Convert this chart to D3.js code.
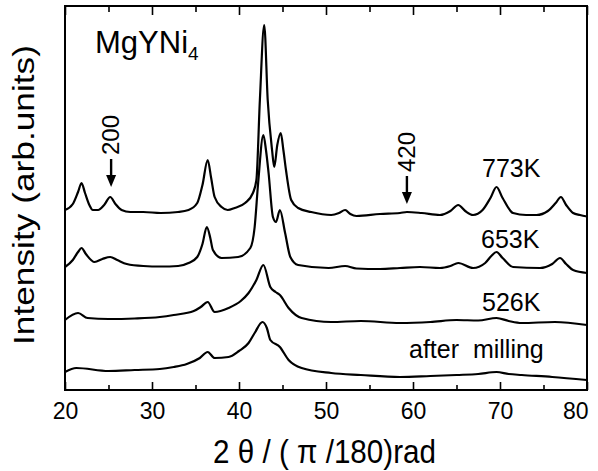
<!DOCTYPE html>
<html>
<head>
<meta charset="utf-8">
<script src="https://d3js.org/d3.v7.min.js"></script>
<style>
  body { margin: 0; background: #fff; }
  text { font-family: "Liberation Sans", Arial, sans-serif; fill: #000; }
</style>
</head>
<body>
<div id="chart"></div>
<script>
// tick values
var xTicks = [20, 30, 40, 50, 60, 70, 80];
var xMinor = [25, 35, 45, 55, 65, 75];

// 773K pattern
var t773 = [20.0, 20.9, 21.5, 21.9, 22.3, 22.8, 23.2, 23.8, 24.5, 25.2, 25.8, 26.5, 27.5, 29, 31, 33, 34.2, 35.2, 35.8, 36.4, 36.8, 37.2, 38, 38.7, 39.5, 40.7, 41.6, 42.0, 42.4, 42.9, 43.3, 43.8, 44.05, 44.4, 44.8, 45.1, 45.4, 46, 46.8, 48.3, 50.6, 51.5, 52.2, 52.8, 53.5, 56.2, 58.5, 59.3, 61, 63.1, 64.3, 65.2, 66, 66.9, 68.0, 68.9, 69.6, 70.3, 71.5, 73, 74.2, 75.5, 76.4, 77.0, 77.6, 78.4, 79.2, 80];
var i773 = [180, 186, 198, 207, 197, 185, 180, 180, 185, 193, 186, 180, 178, 178, 177, 178, 180, 187, 205, 230, 212, 193, 183, 180, 182, 187, 197, 210, 290, 365, 290, 240, 223, 245, 257, 240, 220, 190, 182, 178, 175, 177, 180, 176, 174, 176, 177, 178, 177, 175, 179, 185, 179, 175, 180, 192, 203, 192, 177, 175, 175, 179, 187, 193, 185, 177, 175, 173.5];

// 653K pattern
var t653 = [20, 20.9, 21.5, 21.9, 22.4, 23.4, 24.3, 25.2, 26, 27.1, 29, 31, 33, 34.2, 35.2, 35.8, 36.3, 36.7, 37, 38, 39.9, 41.3, 41.8, 42.2, 42.8, 43.1, 43.4, 43.9, 44.25, 44.7, 45.3, 45.9, 46.8, 50.3, 52.2, 53.5, 56.2, 58.5, 60.8, 63.1, 64.3, 65.2, 66.9, 68.3, 69.0, 69.6, 70.3, 71.5, 74.6, 76.0, 76.9, 77.6, 78.4, 80];
var i653 = [123, 130, 138, 142, 136, 128, 131, 133, 130, 126, 124, 123.5, 124, 127, 133, 146, 163, 152, 140, 132, 133, 142, 163, 207, 255, 240, 217, 173, 168, 180, 157, 133, 125, 122, 124, 121.5, 121, 122, 123, 122, 124, 127, 122, 127, 134, 138, 132, 123, 122, 126, 132, 126, 120, 117];

// 526K pattern
var t526 = [20, 21.5, 22.6, 25, 28, 30.9, 32.5, 34.8, 35.6, 36.4, 37.2, 38.8, 40.2, 41.1, 42.0, 42.8, 43.6, 44.2, 44.7, 45.7, 47.2, 50.6, 54, 58.5, 62, 65, 67.5, 69.6, 71, 72.5, 76.3, 80];
var i526 = [70, 77, 72, 71, 71.5, 73, 75, 79, 83, 88, 78, 82, 89, 97, 110, 125, 103, 98, 95, 82, 72, 68, 69, 67, 68, 70, 69.5, 72, 69, 67, 68, 65];

// after milling pattern
var tMill = [20, 21.3, 25, 28, 30.9, 32.5, 34, 35.5, 36.4, 37.2, 38.8, 40, 41.1, 41.8, 42.7, 43.2, 43.6, 44.7, 45.7, 47.2, 50.6, 54, 58.5, 62, 65, 67.5, 69.6, 71, 72.5, 76, 80];
var iMill = [18, 22, 19, 20, 21, 23, 26, 32, 38, 32, 33, 39, 47, 57, 68, 62, 50, 43, 30, 22, 17, 15, 13, 14, 15, 16, 18, 16, 15, 13, 10];

var seriesNames = ["773K", "653K", "526K", "after  milling"];

var series = [
  {name: seriesNames[0], t: t773, v: i773},
  {name: seriesNames[1], t: t653, v: i653},
  {name: seriesNames[2], t: t526, v: i526},
  {name: seriesNames[3], t: tMill, v: iMill}
];

var W = 598, H = 471;
var margin = {top: 6, right: 11, bottom: 81, left: 65};
var width = W - margin.left - margin.right;
var height = H - margin.top - margin.bottom;

var svg = d3.select("#chart").append("svg")
  .attr("width", W)
  .attr("height", H);

var g = svg.append("g")
  .attr("transform", "translate(" + margin.left + "," + margin.top + ")");

var x = d3.scaleLinear().domain([20, 80]).range([0, width]);
var y = d3.scaleLinear().domain([0, 384]).range([height, 0]);

//curves
var line = d3.line()
  .x(function(d) { return x(d[0]); })
  .y(function(d) { return y(d[1]); })
  .curve(d3.curveMonotoneX);

g.selectAll(".trace")
  .data(series)
  .enter()
  .append("path")
  .attr("class", "trace")
  .attr("fill", "none")
  .attr("stroke", "#000")
  .attr("stroke-width", 2.2)
  .attr("stroke-linejoin", "round")
  .attr("d", function(s) { return line(s.t.map(function(t, i) { return [t, s.v[i]]; })); });

//bottom axis, ticks pointing in
var xAxis = g.append("g")
  .attr("transform", "translate(0," + height + ")")
  .call(d3.axisBottom(x).tickValues(xTicks).tickSizeInner(-8).tickSizeOuter(0).tickPadding(12.5).tickFormat(d3.format("d")));
xAxis.select(".domain").remove();
xAxis.selectAll("line").attr("stroke-width", 1.6);
xAxis.selectAll("text").style("font-size", "23px").attr("fill", "#000");
// last label kept inside the page
xAxis.selectAll("text").filter(function(d) { return d === 80; })
  .attr("text-anchor", "end").attr("x", 1);

var xMinorAxis = g.append("g")
  .attr("transform", "translate(0," + height + ")")
  .call(d3.axisBottom(x).tickValues(xMinor).tickSizeInner(-5).tickSizeOuter(0).tickFormat(""));
xMinorAxis.select(".domain").remove();
xMinorAxis.selectAll("line").attr("stroke-width", 1.6);

//top axis
var topAxis = g.append("g")
  .call(d3.axisTop(x).tickValues(xTicks).tickSizeInner(-9).tickSizeOuter(0).tickFormat(""));
topAxis.select(".domain").remove();
topAxis.selectAll("line").attr("stroke-width", 1.6);

var topMinor = g.append("g")
  .call(d3.axisTop(x).tickValues(xMinor).tickSizeInner(-6).tickSizeOuter(0).tickFormat(""));
topMinor.select(".domain").remove();
topMinor.selectAll("line").attr("stroke-width", 1.6);

//frame
g.append("rect")
  .attr("x", 0).attr("y", 0)
  .attr("width", width).attr("height", height)
  .attr("fill", "none")
  .attr("stroke", "#000")
  .attr("stroke-width", 2);

//axis titles
svg.append("text")
  .attr("x", 213)
  .attr("y", 463)
  .attr("textLength", 223)
  .attr("lengthAdjust", "spacingAndGlyphs")
  .style("font-size", "33px")
  .style("white-space", "pre")
  .text("2 \u03B8 / ( \u03C0 /180)rad");

svg.append("text")
  .attr("transform", "translate(34,345) rotate(-90)")
  .attr("textLength", 300)
  .attr("lengthAdjust", "spacingAndGlyphs")
  .style("font-size", "29px")
  .text("Intensity (arb.units)");

//compound label
var comp = svg.append("text")
  .attr("x", 95)
  .attr("y", 53)
  .style("font-size", "31px");
comp.append("tspan").text("MgYNi");
comp.append("tspan").attr("dy", 7).style("font-size", "19px").text("4");

//temperature labels
var labelPos = [[482, 177], [481, 248], [482, 311], [409, 358]];
svg.selectAll(".tlabel")
  .data(seriesNames)
  .enter()
  .append("text")
  .attr("class", "tlabel")
  .attr("x", function(d, i) { return labelPos[i][0]; })
  .attr("y", function(d, i) { return labelPos[i][1]; })
  .style("font-size", "25px")
  .style("white-space", "pre")
  .text(function(d) { return d; });

//reflection markers
var marks = [
  {label: "200", pos: 25.3, tip: 203},
  {label: "420", pos: 59.3, tip: 186}
];

var mk = g.selectAll(".mark")
  .data(marks)
  .enter()
  .append("g")
  .attr("class", "mark")
  .attr("transform", function(d) { return "translate(" + x(d.pos) + "," + y(d.tip) + ")"; });

mk.append("line")
  .attr("x1", 0).attr("x2", 0)
  .attr("y1", -28).attr("y2", -8)
  .attr("stroke", "#000")
  .attr("stroke-width", 2.4);

mk.append("path")
  .attr("d", "M-5,-12 L5,-12 L0,0 Z")
  .attr("fill", "#000");

mk.append("text")
  .attr("transform", "translate(8,-52) rotate(-90)")
  .attr("text-anchor", "middle")
  .style("font-size", "24px")
  .text(function(d) { return d.label; });
</script>
</body>
</html>
